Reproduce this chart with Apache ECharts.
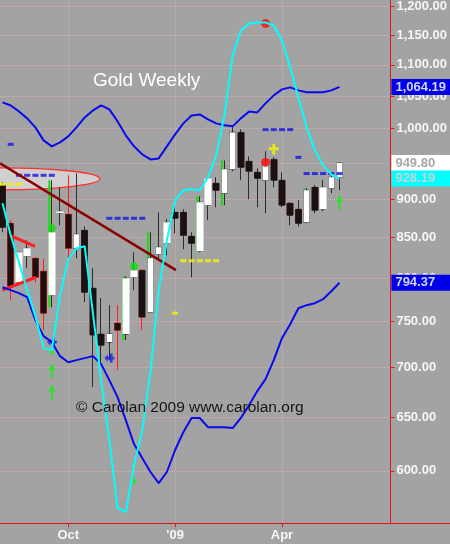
<!DOCTYPE html>
<html><head><meta charset="utf-8">
<script src="https://cdn.jsdelivr.net/npm/echarts@6/dist/echarts.min.js"></script>
<style>html,body{margin:0;padding:0;background:#a3a3a3}#c{width:450px;height:544px}</style>
</head><body><div id="c"></div>
<script>
// ---- categories (weekly bars) ----
const weeks = ['2008-08-08','2008-08-15','2008-08-22','2008-08-29','2008-09-05','2008-09-12','2008-09-19','2008-09-26',
 '2008-10-03','2008-10-10','2008-10-17','2008-10-24','2008-10-31','2008-11-07','2008-11-14','2008-11-21','2008-11-28',
 '2008-12-05','2008-12-12','2008-12-19','2008-12-26','2009-01-02','2009-01-09','2009-01-16','2009-01-23','2009-01-30',
 '2009-02-06','2009-02-13','2009-02-20','2009-02-27','2009-03-06','2009-03-13','2009-03-20','2009-03-27',
 '2009-04-03','2009-04-10','2009-04-17','2009-04-24','2009-05-01','2009-05-08','2009-05-15','2009-05-22'];
const monthAbbr = ['Jan','Feb','Mar','Apr','May','Jun','Jul','Aug','Sep','Oct','Nov','Dec'];
const yTickValues = [600,650,700,750,800,850,900,950,1000,1050,1100,1150,1200];

// ---- candles ----
const opens  = [918.9,868.2,795.1,826.5,824.0,808.2,779.9,881.3,879.9,836.4,859.1,788.0,735.8,727.1,748.0,735.8,801.0,809.5,760.3,829.0,842.7,882.5,882.5,851.5,832.7,891.8,921.6,907.9,941.0,994.4,952.3,936.8,925.8,955.1,925.8,894.5,886.5,869.5,916.1,886.5,914.8,929.9];
const closes = [863.0,790.4,831.4,836.4,801.0,759.2,856.6,883.9,836.4,854.0,783.3,734.7,723.8,735.8,740.2,799.8,809.5,754.7,824.0,837.6,869.5,874.7,852.8,842.7,895.8,928.5,912.0,941.0,994.4,943.8,938.2,928.5,946.6,925.8,891.8,878.6,868.2,912.0,885.2,916.1,929.9,949.8];
const lows   = [856.6,774.1,795.1,811.9,795.1,740.2,766.0,865.6,821.5,824.0,771.8,679.9,705.7,707.8,697.3,729.2,785.7,740.2,759.2,824.0,827.7,855.3,835.1,801.0,831.4,872.2,889.2,891.8,938.2,925.8,899.8,889.2,881.3,916.1,889.2,865.6,864.3,868.2,881.3,883.9,907.9,912.0];
const highs  = [923.0,872.2,831.4,846.4,825.3,822.8,925.8,916.1,932.7,935.5,864.3,811.9,776.4,768.3,768.3,802.2,831.4,810.5,856.6,882.5,873.5,891.8,886.5,856.6,903.9,929.9,929.9,953.7,1004.9,998.9,959.4,942.4,967.0,958.0,936.8,895.8,898.5,914.8,918.9,925.8,931.3,950.8];
const redWickBars = [1,4,5,8,14,17];
const greenBars = [6,15,18,24,27,37];

// ---- indicator lines ----
const upperBand = [1039.9,1035.2,1026.0,1015.4,1001.9,982.6,973.9,979.7,988.5,1001.9,1016.9,1027.5,1035.2,1029.1,1010.8,990.0,973.9,962.3,955.1,956.5,973.9,991.5,1007.9,1019.9,1021.4,1013.9,1007.9,1004.9,1003.4,1015.4,1026.0,1024.5,1038.4,1050.9,1060.3,1063.5,1058.8,1055.7,1055.7,1055.7,1058.8,1064.19];
const lowerBand = [789.2,785.7,782.2,777.5,751.3,733.6,727.1,712.0,705.6,707.8,709.9,712.0,703.6,687.0,669.8,647.2,624.4,611.5,598.9,589.1,598.9,618.9,635.6,649.2,649.2,640.4,640.4,640.4,639.5,649.2,661.8,675.8,688.0,707.8,731.4,746.8,764.8,768.3,770.6,775.2,784.5,794.37];
const cyanLine  = [894.5,852.8,819.1,785.7,755.8,720.6,718.4,779.9,822.8,836.4,838.9,759.2,687.0,628.1,567.5,564.1,605.2,637.5,695.2,785.7,846.4,898.5,912.0,913.4,912.0,929.9,960.8,1019.9,1115.5,1157.7,1169.9,1171.6,1171.6,1166.4,1140.7,1095.7,1047.7,1001.9,968.1,946.6,934.1,928.19];

// ---- annotations (bar index, price) ----
const darkTrend = [[-0.3,949.4],[21.1,809.5]];
const redLineUpper = [[0.9,852.8],[3.95,838.9]];
const redLineLower = [[0,785.7],[4.07,801.0]];
const ellipseMark = [[-0.3,927.8,11.84,943.2]];
const blueDashes = [[1,976.8],[2,932.7],[3,932.7],[4,932.7],[5,932.7],[6,932.7],[13,874.7],[14,874.7],[15,874.7],[16,874.7],[17,874.7],
 [32,998.5],[33,998.5],[34,998.5],[35,998.5],[36,958.0],[37,935.1],[38,935.1],[39,935.1],[40,935.1],[41,935.1]];
const yellowDashes = [[0,920.2],[1,920.2],[2,920.2],[21,759.2],[22,821.0],[23,821.0],[24,821.0],[25,821.0],[26,821.0]];
const greenDots = [[6,861.7],[16,814.3]];
const redDots = [[32,950.8],[32,1169.9]];
const greenArrows = [[6,696.3],[6,674.8],[41,895.8]];
const smallGreenMarks = [[6,716.2],[16,590.9]];
const blueMarks = [[6,727.1],[13,709.9]];
const yellowMarks = [[33,969.5]];

// ---- build ----
const tickIdx = [], tickText = {};
weeks.forEach((w,i)=>{
  const m = +w.slice(5,7), pm = i>0 ? +weeks[i-1].slice(5,7) : m;
  if (i>0 && m!==pm && (m-1)%3===0){ tickIdx.push(i); tickText[i] = m===1 ? "'"+w.slice(2,4) : monthAbbr[m-1]; }
});
const fmt = v => Number(v).toLocaleString('en-US',{minimumFractionDigits:2,maximumFractionDigits:2});
const last = a => a[a.length-1];
const pairs = a => a.map((v,i)=>[i,v]);
const candleData = opens.map((o,i)=>{
  const item = {value:[i,o,closes[i],lows[i],highs[i]]};
  if (redWickBars.includes(i)) item.itemStyle = {borderColor:'#ff1e1e',borderColor0:'#ff1e1e'};
  return item;
});
const candleBody = opens.map((o,i)=>[i,o,closes[i],lows[i],highs[i]]);
const greenBarData = greenBars.map(i=>[i,lows[i],highs[i]]);

const FONT = 'Liberation Sans, Arial, sans-serif';
const boxLabel = (val, bg, fg) => ({show:true, position:'end', distance:1, formatter:()=>fmt(val),
  backgroundColor:bg, color:fg, opacity:1, fontFamily:FONT, fontWeight:'bold', fontSize:13, padding:[2,4,1,4], width:51, align:'left'});
const lastMark = (val, bg, fg) => ({symbol:['none','none'], silent:true, animation:false,
  lineStyle:{color:'rgba(0,0,0,0)', width:0, type:'solid'}, label:boxLabel(val,bg,fg), data:[{yAxis:val}]});
const lineS = (data, color, width, extra) => Object.assign({type:'line', data, showSymbol:false, symbol:'none',
  lineStyle:{color, width}, silent:true, animation:false, clip:false}, extra||{});
const scat = (data, symbol, size, color) => ({type:'scatter', data, symbol, symbolSize:size, itemStyle:{color}, silent:true, animation:false});

const chart = echarts.init(document.getElementById('c'), null, {renderer:'canvas'});
chart.setOption({
  animation:false,
  backgroundColor:'#a3a3a3',
  textStyle:{fontFamily:FONT},
  title:[
    {text:'Gold Weekly', left:93, top:71, padding:0, textStyle:{color:'#ffffff', fontSize:19, fontWeight:'normal', fontFamily:FONT}},
    {text:'\u00a9 Carolan 2009 www.carolan.org', left:76, top:400, padding:0, textStyle:{color:'#151515', fontSize:15.5, fontWeight:'normal', fontFamily:FONT}}
  ],
  grid:{left:0, right:59, top:0, bottom:21},
  xAxis:{type:'value', min:-0.3037, max:47.19,
    axisLine:{onZero:false, lineStyle:{color:'#e01818', width:1}},
    axisTick:{show:true, customValues:tickIdx, length:4, lineStyle:{color:'#e01818'}},
    axisLabel:{customValues:tickIdx, formatter:v=>tickText[Math.round(v)]||'', color:'#f6f6f6', fontWeight:'bold', fontSize:13, margin:6, fontFamily:FONT},
    splitLine:{show:true, lineStyle:{color:'rgba(222,176,176,0.85)', type:'dotted', width:1}}
  },
  yAxis:{type:'log', logBase:10, min:555, max:1211, position:'right',
    axisLine:{show:true, onZero:false, lineStyle:{color:'#e01818', width:1}},
    axisTick:{show:true, customValues:yTickValues, length:4, lineStyle:{color:'#e01818'}},
    axisLabel:{customValues:yTickValues, formatter:v=>fmt(v), color:'#f6f6f6', fontWeight:'bold', fontSize:13, margin:6, fontFamily:FONT},
    splitLine:{show:true, lineStyle:{color:'rgba(222,176,176,0.85)', type:'dotted', width:1}}
  },
  graphic:[{type:'line', shape:{x1:391, y1:523.5, x2:450, y2:523.5}, style:{stroke:'#e01818', lineWidth:1}, silent:true}],
  series:[
    {type:'custom', data:ellipseMark, silent:true, animation:false, renderItem:(params, api)=>{
      const c = api.coord([api.value(0), api.value(1)]);
      const r = api.coord([api.value(2), api.value(1)]);
      const t = api.coord([api.value(0), api.value(3)]);
      return {type:'ellipse', shape:{cx:c[0], cy:c[1], rx:r[0]-c[0], ry:c[1]-t[1]},
        style:{fill:'rgba(212,212,212,0.92)', stroke:'#ff3030', lineWidth:1.3}};
    }},
    {type:'candlestick', data:candleData, barWidth:6, silent:true, animation:false,
      itemStyle:{color:'#ffffff', color0:'#1e1010', borderColor:'#2c2c2c', borderColor0:'#2c2c2c', borderWidth:1}},
    {type:'candlestick', data:candleBody, barWidth:7, silent:true, animation:false, clip:false,
      itemStyle:{color:'#ffffff', color0:'#1e1010', borderColor:'rgba(0,0,0,0)', borderColor0:'rgba(0,0,0,0)', borderWidth:0},
      markLine:lastMark(last(closes), '#ffffff', '#a8a8a8')},
    {type:'custom', data:greenBarData, silent:true, animation:false, renderItem:(params, api)=>{
      const lo = api.coord([api.value(0), api.value(1)]);
      const hi = api.coord([api.value(0), api.value(2)]);
      return {type:'line', shape:{x1:lo[0]-2.5, y1:lo[1], x2:hi[0]-2.5, y2:hi[1]}, style:{stroke:'#12e012', lineWidth:2}};
    }},
    lineS(darkTrend, '#8a0000', 2.5),
    lineS(redLineUpper, '#ff1e1e', 3),
    lineS(redLineLower, '#ff1e1e', 3),
    lineS(pairs(upperBand), '#0a0aee', 2, {markLine:lastMark(last(upperBand), '#0000e8', '#d4d4ff')}),
    lineS(pairs(lowerBand), '#0a0aee', 2, {markLine:lastMark(last(lowerBand), '#0000e8', '#d4d4ff')}),
    lineS(pairs(cyanLine), '#00ffff', 2, {markLine:lastMark(last(cyanLine), '#00ffff', '#c4d4d4')}),
    scat(blueDashes, 'rect', [6,3], '#1414ea'),
    scat(yellowDashes, 'rect', [6,3], '#f4f400'),
    scat(greenDots, 'circle', 8, '#10e010'),
    scat(redDots, 'circle', 9, '#ff0a0a'),
    scat(greenArrows, 'path://M5,0L10,7L6.5,7L6.5,16L3.5,16L3.5,7L0,7Z', [7,15], '#10f010'),
    scat(smallGreenMarks, 'path://M5,0L10,6L6.5,6L6.5,10L3.5,10L3.5,6L0,6Z', [6,7], '#10f010'),
    scat(blueMarks, 'path://M0,5L4,1L4,3.5L6,3.5L6,0L9,0L9,3.5L11,3.5L11,6.5L9,6.5L9,10L6,10L6,6.5L4,6.5L4,9Z', [10,9], '#1a1aee'),
    scat(yellowMarks, 'path://M3.5,0L6.5,0L6.5,3.5L10,3.5L10,6.5L6.5,6.5L6.5,11L3.5,11L3.5,6.5L0,6.5L0,3.5L3.5,3.5Z', [10,11], '#f4f400')
  ]
});
</script>
</body></html>
